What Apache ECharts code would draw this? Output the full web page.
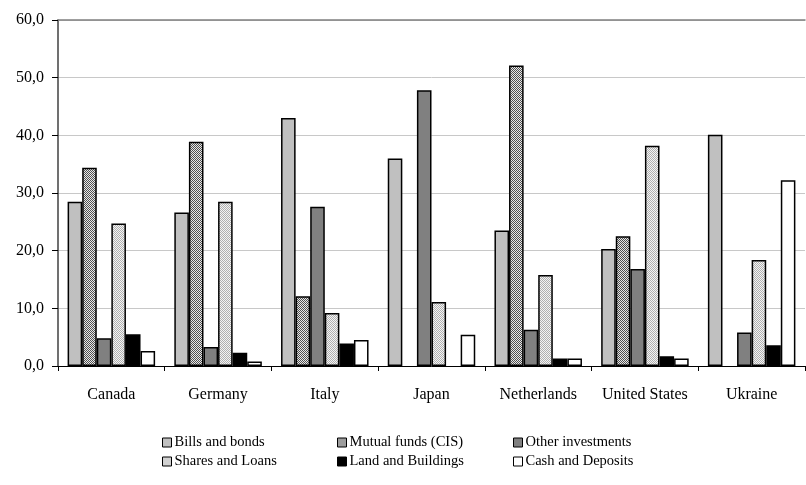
<!DOCTYPE html>
<html>
<head>
<meta charset="utf-8">
<script src="https://cdn.jsdelivr.net/npm/echarts@6/dist/echarts.min.js"></script>
<style>
html,body{margin:0;padding:0;background:#fff;}
#main{width:806px;height:485px;}
</style>
</head>
<body>
<div id="main"></div>
<script>
const categories = ['Canada', 'Germany', 'Italy', 'Japan', 'Netherlands', 'United States', 'Ukraine'];
const seriesNames = ['Bills and bonds', 'Mutual funds (CIS)', 'Other investments', 'Shares and Loans', 'Land and Buildings', 'Cash and Deposits'];
const billsAndBonds = [28.5, 26.6, 43.0, 36.0, 23.5, 20.3, 40.1];
const mutualFunds = [34.4, 38.9, 12.1, null, 52.1, 22.5, null];
const otherInvestments = [4.8, 3.3, 27.6, 47.8, 6.3, 16.8, 5.8];
const sharesAndLoans = [24.7, 28.5, 9.2, 11.1, 15.8, 38.2, 18.4];
const landAndBuildings = [5.5, 2.3, 3.9, null, 1.3, 1.7, 3.6];
const cashAndDeposits = [2.6, 0.8, 4.5, 5.4, 1.3, 1.3, 32.2];
const yTicks = [0, 10, 20, 30, 40, 50, 60];

function makePattern(c1, c2) {
  const cv = document.createElement('canvas');
  cv.width = 2; cv.height = 2;
  const ctx = cv.getContext('2d');
  ctx.fillStyle = c1; ctx.fillRect(0, 0, 2, 2);
  ctx.fillStyle = c2; ctx.fillRect(0, 0, 1, 1); ctx.fillRect(1, 1, 1, 1);
  return { image: cv, repeat: 'repeat' };
}

const fills = [
  '#c0c0c0',
  makePattern('#e8e8e8', '#505050'),
  '#808080',
  makePattern('#f4f4f4', '#b0b0b0'),
  '#000000',
  '#ffffff'
];
const dataArr = [billsAndBonds, mutualFunds, otherInvestments, sharesAndLoans, landAndBuildings, cashAndDeposits];

const font = 'Liberation Serif, Times New Roman, serif';
const chart = echarts.init(document.getElementById('main'));

const legendPos = [
  [162, 435], [337, 435], [513, 435],
  [162, 454], [337, 454], [513, 454]
];

const option = {
  animation: false,
  grid: { left: 58, right: 1, top: 20, bottom: 119 },
  xAxis: [{
    type: 'category',
    data: categories,
    axisLine: { lineStyle: { color: '#000', width: 1 } },
    axisTick: { show: true, length: 5, lineStyle: { color: '#000' } },
    axisLabel: { color: '#000', fontFamily: font, fontSize: 16, margin: 21, interval: 0, hideOverlap: false }
  }, {
    type: 'category',
    data: categories,
    position: 'top',
    axisLine: { lineStyle: { color: '#808080', width: 1.5 } },
    axisTick: { show: false },
    axisLabel: { show: false }
  }],
  yAxis: {
    type: 'value',
    min: 0, max: 60, interval: 10,
    axisLine: { show: true, lineStyle: { color: '#404040', width: 1.5 } },
    axisTick: { show: true, length: 6, lineStyle: { color: '#000' } },
    splitLine: { show: true, lineStyle: { color: '#c8c8c8', width: 1 } },
    axisLabel: {
      color: '#000', fontFamily: font, fontSize: 16, margin: 14,
      formatter: v => yTicks.indexOf(v) >= 0 ? v.toFixed(1).replace('.', ',') : ''
    }
  },
  legend: seriesNames.map((n, i) => ({
    data: [n],
    left: legendPos[i][0],
    top: legendPos[i][1],
    itemWidth: 9,
    itemHeight: 9,
    itemGap: 0,
    padding: 0,
    icon: 'rect',
    itemStyle: { borderColor: '#000', borderWidth: 1 },
    textStyle: { color: '#000', fontFamily: font, fontSize: 14.5, padding: [0, 0, 0, -2] }
  })),
  series: seriesNames.map((n, i) => ({
    name: n,
    type: 'bar',
    data: dataArr[i],
    barGap: '0%',
    barCategoryGap: '18%',
    itemStyle: { color: fills[i], borderColor: '#000', borderWidth: 1.5 }
  }))
};
chart.setOption(option);
</script>
</body>
</html>
